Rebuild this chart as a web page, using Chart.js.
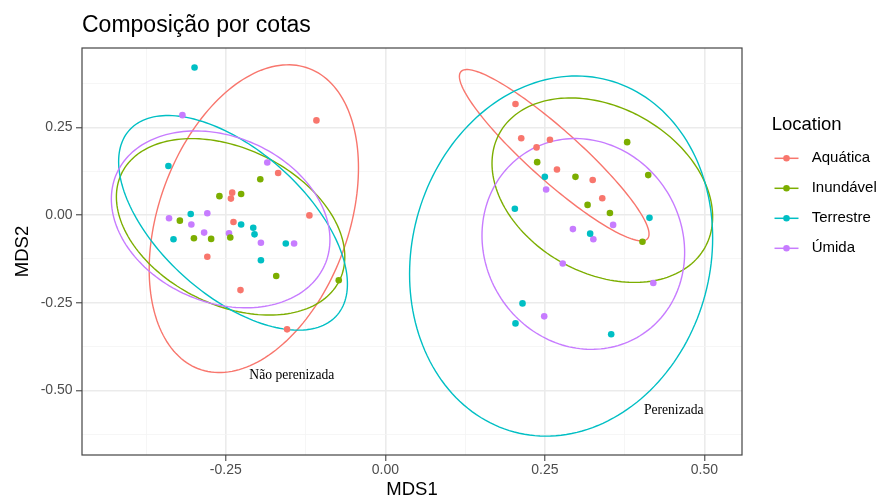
<!DOCTYPE html>
<html>
<head>
<meta charset="utf-8">
<script src="https://cdn.jsdelivr.net/npm/chart.js@4.4.1/dist/chart.umd.min.js"></script>
<style>
  body { margin: 0; background: #fff; }
  #wrap { width: 879px; height: 497px; }
</style>
</head>
<body>
<div id="wrap"><canvas id="mdsChart" width="879" height="497"></canvas></div>
<script>
// groups and colours (ggplot default hues)
const locations = ["Aquática", "Inundável", "Terrestre", "Úmida"];
const colors = ["#F8766D", "#7CAE00", "#00BFC4", "#C77CFF"];

// points, per location
const aquaticaX = [-0.108, -0.168, -0.240, -0.242, -0.119, -0.238, -0.279, -0.227, -0.154, 0.204, 0.213, 0.258, 0.237, 0.269, 0.325, 0.340];
const aquaticaY = [0.270, 0.120, 0.064, 0.047, -0.001, -0.020, -0.119, -0.214, -0.326, 0.317, 0.219, 0.215, 0.193, 0.130, 0.100, 0.048];
const inundavelX = [-0.196, -0.260, -0.226, -0.322, -0.300, -0.273, -0.243, -0.171, -0.073, 0.238, 0.298, 0.379, 0.412, 0.317, 0.352, 0.403];
const inundavelY = [0.102, 0.054, 0.060, -0.016, -0.066, -0.068, -0.064, -0.174, -0.186, 0.151, 0.109, 0.208, 0.114, 0.029, 0.006, -0.076];
const terrestreX = [-0.299, -0.340, -0.305, -0.226, -0.207, -0.205, -0.332, -0.156, -0.195, 0.250, 0.203, 0.414, 0.321, 0.215, 0.204, 0.354];
const terrestreY = [0.421, 0.140, 0.003, -0.027, -0.036, -0.055, -0.069, -0.081, -0.129, 0.109, 0.018, -0.008, -0.053, -0.252, -0.309, -0.340];
const umidaX = [-0.318, -0.185, -0.339, -0.279, -0.304, -0.284, -0.245, -0.195, -0.143, 0.252, 0.357, 0.294, 0.326, 0.278, 0.420, 0.249];
const umidaY = [0.285, 0.150, -0.009, 0.005, -0.027, -0.050, -0.052, -0.079, -0.081, 0.073, -0.028, -0.040, -0.069, -0.138, -0.194, -0.289];

// ellipses: group index, centre, half extent in x / y, correlation (data units)
const ellGroup = [0, 1, 2, 3, 0, 1, 2, 3];
const ellCx = [-0.2061, -0.2425, -0.2387, -0.2581, 0.2647, 0.3401, 0.2755, 0.3103];
const ellCy = [-0.0103, -0.0336, -0.0222, -0.0123, 0.1708, 0.0710, -0.1169, -0.0824];
const ellSx = [0.164, 0.179, 0.1793, 0.1713, 0.1486, 0.1729, 0.2375, 0.1588];
const ellSy = [0.439, 0.2517, 0.3062, 0.2523, 0.2443, 0.2631, 0.5137, 0.3007];
const ellR = [0.33, -0.34, -0.57, -0.23, -0.92, -0.29, 0.1, -0.08];

// annotations
const annoText = ["Não perenizada", "Perenizada"];
const annoX = [-0.1466, 0.452];
const annoY = [-0.458, -0.558];

// axes
const xMin = -0.4754, xMax = 0.559;
const yMin = -0.6845, yMax = 0.4766;
const xMajor = [-0.25, 0, 0.25, 0.5];
const xMajorLabels = ["-0.25", "0.00", "0.25", "0.50"];
const xMinor = [-0.375, -0.125, 0.125, 0.375];
const yMajor = [-0.5, -0.25, 0, 0.25];
const yMajorLabels = ["-0.50", "-0.25", "0.00", "0.25"];
const yMinor = [-0.625, -0.375, -0.125, 0.125, 0.375];

const allX = [aquaticaX, inundavelX, terrestreX, umidaX];
const allY = [aquaticaY, inundavelY, terrestreY, umidaY];

const datasets = locations.map((name, i) => ({
    label: name,
    data: allX[i].map((x, j) => ({x: x, y: allY[i][j]})),
    backgroundColor: colors[i],
    pointRadius: 3.3,
    pointHoverRadius: 3.3,
    borderWidth: 0
}));

function isMajor(v, list) {
    return list.some(m => Math.abs(m - v) < 1e-9);
}

function gridOpts(majors) {
    return {
        color: ctx => isMajor(ctx.tick.value, majors) ? "#EBEBEB" : "#F4F4F4",
        lineWidth: ctx => isMajor(ctx.tick.value, majors) ? 1.6 : 0.8,
        tickColor: ctx => isMajor(ctx.tick.value, majors) ? "#333333" : "rgba(0,0,0,0)",
        tickLength: 6,
        tickWidth: 1
    };
}

const ellipsePlugin = {
    id: "ellipses",
    beforeDatasetsDraw(chart) {
        const {ctx, chartArea, scales} = chart;
        ctx.save();
        ctx.beginPath();
        ctx.rect(chartArea.left, chartArea.top, chartArea.right - chartArea.left, chartArea.bottom - chartArea.top);
        ctx.clip();
        ctx.lineWidth = 1.4;
        for (let k = 0; k < ellCx.length; k++) {
            const q = Math.sqrt(1 - ellR[k] * ellR[k]);
            ctx.strokeStyle = colors[ellGroup[k]];
            ctx.beginPath();
            for (let a = 0; a <= 360; a += 2) {
                const t = a * Math.PI / 180;
                const dx = ellCx[k] + ellSx[k] * Math.cos(t);
                const dy = ellCy[k] + ellSy[k] * (ellR[k] * Math.cos(t) + q * Math.sin(t));
                const px = scales.x.getPixelForValue(dx);
                const py = scales.y.getPixelForValue(dy);
                if (a === 0) ctx.moveTo(px, py); else ctx.lineTo(px, py);
            }
            ctx.closePath();
            ctx.stroke();
        }
        ctx.restore();
    },
    afterDatasetsDraw(chart) {
        const {ctx, scales} = chart;
        ctx.save();
        ctx.fillStyle = "#000";
        ctx.textAlign = "center";
        ctx.textBaseline = "middle";
        ctx.font = "13.6px 'Liberation Serif', serif";
        annoText.forEach((txt, i) => {
            ctx.fillText(txt, scales.x.getPixelForValue(annoX[i]), scales.y.getPixelForValue(annoY[i]));
        });
        ctx.restore();
    },
    afterDraw(chart) {
        const {ctx, chartArea} = chart;
        ctx.save();
        // panel border
        ctx.strokeStyle = "#444";
        ctx.lineWidth = 1.2;
        ctx.strokeRect(chartArea.left, chartArea.top, chartArea.right - chartArea.left, chartArea.bottom - chartArea.top);
        // title
        ctx.fillStyle = "#000";
        ctx.textAlign = "left";
        ctx.textBaseline = "alphabetic";
        ctx.font = "23px 'Liberation Sans', Arial, sans-serif";
        ctx.fillText("Composição por cotas", 82, 32.3);
        // legend
        ctx.textBaseline = "middle";
        ctx.font = "18.5px 'Liberation Sans', Arial, sans-serif";
        ctx.fillText("Location", 771.7, 125);
        ctx.font = "15px 'Liberation Sans', Arial, sans-serif";
        locations.forEach((name, i) => {
            const y = 158.3 + i * 30;
            ctx.strokeStyle = colors[i];
            ctx.lineWidth = 1.5;
            ctx.beginPath();
            ctx.moveTo(774.5, y);
            ctx.lineTo(798.5, y);
            ctx.stroke();
            ctx.fillStyle = colors[i];
            ctx.beginPath();
            ctx.arc(786.5, y, 3.3, 0, Math.PI * 2);
            ctx.fill();
            ctx.fillStyle = "#000";
            ctx.fillText(name, 811.7, y);
        });
        ctx.restore();
    }
};

new Chart(document.getElementById("mdsChart"), {
    type: "scatter",
    data: {datasets: datasets},
    options: {
        responsive: false,
        animation: false,
        devicePixelRatio: 1,
        layout: {padding: {top: 48, right: 137, left: 0, bottom: 0}},
        plugins: {legend: {display: false}, tooltip: {enabled: false}},
        scales: {
            x: {
                type: "linear",
                min: xMin,
                max: xMax,
                afterBuildTicks: s => { s.ticks = xMinor.concat(xMajor).sort((a, b) => a - b).map(v => ({value: v})); },
                afterFit: s => { s.height = 42; },
                ticks: {
                    autoSkip: false,
                    maxRotation: 0,
                    padding: 1,
                    color: "#4D4D4D",
                    font: {family: "'Liberation Sans', Arial, sans-serif", size: 14},
                    callback: v => { const i = xMajor.findIndex(m => Math.abs(m - v) < 1e-9); return i >= 0 ? xMajorLabels[i] : ""; }
                },
                grid: gridOpts(xMajor),
                border: {display: false},
                title: {display: true, text: "MDS1", color: "#000", padding: {top: 0, bottom: 0},
                        font: {family: "'Liberation Sans', Arial, sans-serif", size: 18.5, lineHeight: 0.8}}
            },
            y: {
                type: "linear",
                min: yMin,
                max: yMax,
                afterBuildTicks: s => { s.ticks = yMinor.concat(yMajor).sort((a, b) => a - b).map(v => ({value: v})); },
                afterFit: s => { s.width = 82; },
                ticks: {
                    autoSkip: false,
                    padding: 3.4,
                    color: "#4D4D4D",
                    font: {family: "'Liberation Sans', Arial, sans-serif", size: 14},
                    callback: v => { const i = yMajor.findIndex(m => Math.abs(m - v) < 1e-9); return i >= 0 ? yMajorLabels[i] : ""; }
                },
                grid: gridOpts(yMajor),
                border: {display: false},
                title: {display: true, text: "MDS2", color: "#000", padding: {top: 12, bottom: 0},
                        font: {family: "'Liberation Sans', Arial, sans-serif", size: 18.5, lineHeight: 1.2}}
            }
        }
    },
    plugins: [ellipsePlugin]
});
</script>
</body>
</html>
